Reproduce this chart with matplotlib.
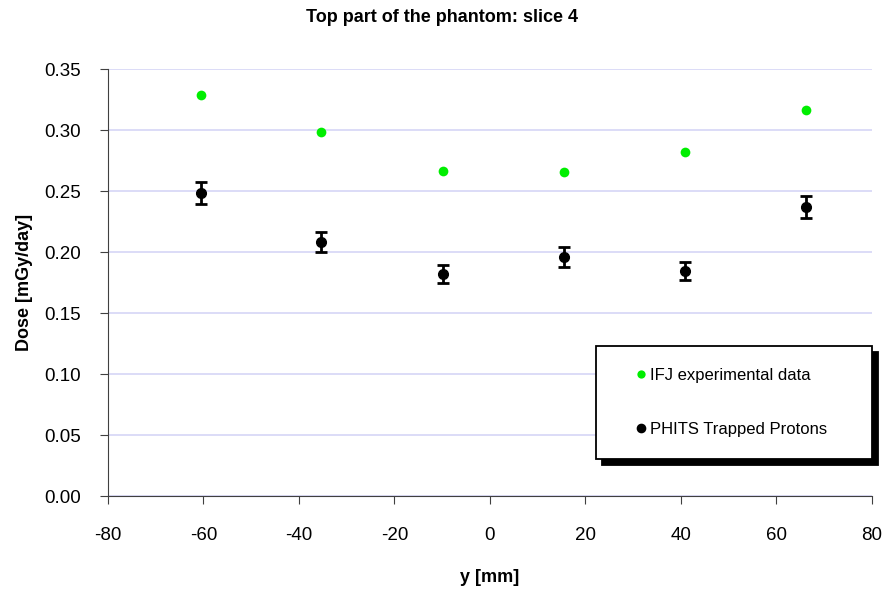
import numpy as np
import matplotlib.pyplot as plt

plt.rcParams['font.family'] = ['Liberation Sans', 'DejaVu Sans']
plt.rcParams['axes.unicode_minus'] = False

# positions along y [mm]
y_pos = [-60.6, -35.3, -9.9, 15.6, 40.8, 66.2]
# IFJ experimental data
ifj_dose = [0.3284, 0.2986, 0.2664, 0.2658, 0.2817, 0.3167]
# PHITS trapped protons with errors
phits_dose = [0.2486, 0.2084, 0.1821, 0.1961, 0.1844, 0.2371]
phits_err = [0.0089, 0.0082, 0.0075, 0.0082, 0.0075, 0.0090]

xticks = np.arange(-80, 81, 20)
yticks = np.arange(0, 0.351, 0.05)

fig = plt.figure(figsize=(8.85, 5.9), dpi=100)
ax = fig.add_axes([0.1220, 0.1593, 0.8633, 0.7237])

ax.grid(axis='y', color='#d6d6f6', lw=1.2)
ax.set_axisbelow(True)

ax.plot(y_pos, ifj_dose, 'o', color='#00ee00', ms=7, mec='none',
        label='IFJ experimental data', zorder=3)
ax.errorbar(y_pos, phits_dose, yerr=phits_err, fmt='o', color='black',
            ms=7, elinewidth=2, capsize=4.5, capthick=2,
            label='PHITS Trapped Protons', zorder=3)

ax.set_xlim(-80, 80)
ax.set_ylim(0, 0.35)
ax.set_xticks(xticks)
ax.set_yticks(yticks)
ax.set_yticklabels([f'{v:.2f}' for v in yticks])
ax.tick_params(labelsize=13.5, direction='out', length=6, color='#404040')
ax.tick_params(axis='y', pad=13.5)
ax.tick_params(axis='x', pad=16)
for s in ['top', 'right']:
    ax.spines[s].set_visible(False)
for s in ['left', 'bottom']:
    ax.spines[s].set_color('#404040')

ax.set_xlabel('y [mm]', fontsize=13, fontweight='bold', labelpad=18)
ax.set_ylabel('Dose [mGy/day]', fontsize=13, fontweight='bold', labelpad=8)
fig.text(0.5, 1 - 18 / 590, 'Top part of the phantom: slice 4', ha='center',
         va='center', fontsize=13, fontweight='bold')

# legend box with solid black shadow
h1, l1 = ax.get_legend_handles_labels()
leg = ax.legend(handles=[h1[0], h1[1].lines[0]], labels=l1,
                loc='upper left', mode='expand',
                bbox_to_anchor=(596 / 885, 1 - 346 / 590 - 0.01, 276 / 885, 0.01),
                bbox_transform=fig.transFigure,
                fontsize=12, frameon=True, fancybox=False,
                edgecolor='black', borderpad=1.3, labelspacing=2.35,
                handlelength=2.8, handletextpad=-0.85, borderaxespad=0,
                markerscale=0.85,
                shadow={'color': 'black', 'alpha': 1, 'ox': 4.5, 'oy': -4.5})
leg.get_frame().set_linewidth(1.3)

fig.savefig('out.png', dpi=100)
